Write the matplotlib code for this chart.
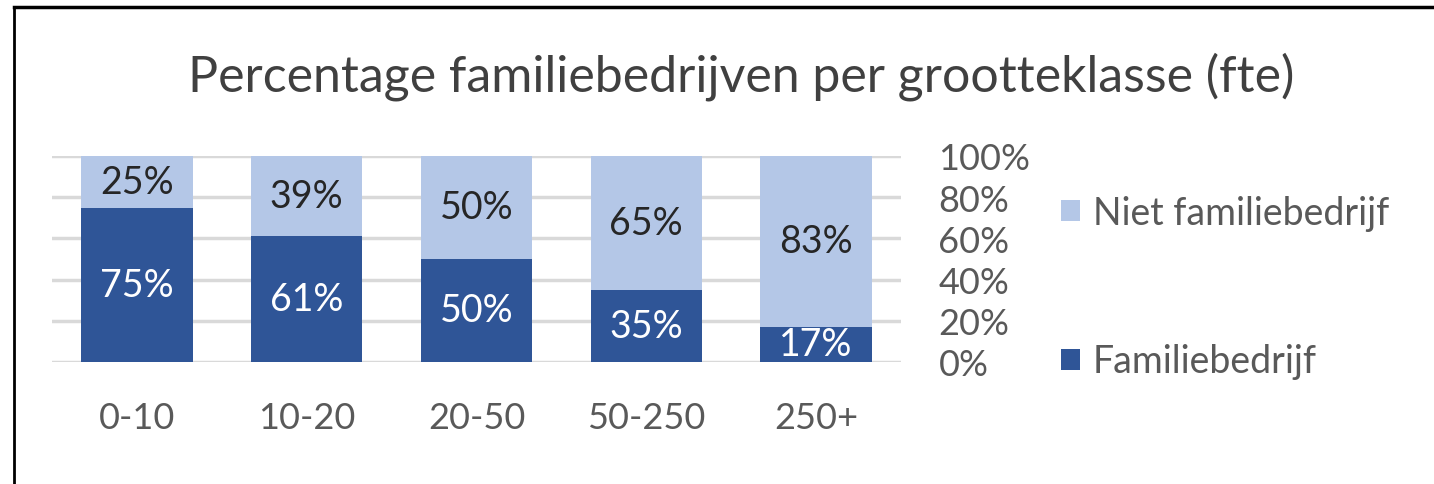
"""
Percentage familiebedrijven per grootteklasse (fte) - stacked 100% bars
"""

import matplotlib.pyplot as plt
import numpy as np
from matplotlib.lines import Line2D

CATEGORIES = ['0-10', '10-20', '20-50', '50-250', '250+']
FAMILIE = [75, 61, 50, 35, 17]
NIET_FAMILIE = [25, 39, 50, 65, 83]
Y_TICKS = [0, 20, 40, 60, 80, 100]

DARK = '#2F5597'
LIGHT = '#B4C7E7'
GRID = '#D9D9D9'
TEXT = '#595959'

plt.rcParams['font.family'] = ['Lato', 'DejaVu Sans']

fig = plt.figure(figsize=(14.34, 4.85), dpi=100)
ax = fig.add_axes([52 / 1434, 1 - 363 / 485, (901 - 52) / 1434, (363 - 157) / 485])

x = np.arange(len(CATEGORIES))
width = 0.655
ax.bar(x, FAMILIE, width, color=DARK, label='Familiebedrijf', zorder=2)
ax.bar(x, NIET_FAMILIE, width, bottom=FAMILIE, color=LIGHT,
       label='Niet familiebedrijf', zorder=2)

for xi, f, n in zip(x, FAMILIE, NIET_FAMILIE):
    ax.text(xi, f / 2, f'{f}%', ha='center', va='center', color='white',
            fontsize=27, zorder=3)
    ax.text(xi, f + n / 2, f'{n}%', ha='center', va='center', color='#262626',
            fontsize=27, zorder=3)

ax.set_xlim(-0.5, len(CATEGORIES) - 0.5)
ax.set_ylim(0, 100)
ax.set_yticks(Y_TICKS)
ax.set_yticklabels([f'{t}%' for t in Y_TICKS])
ax.yaxis.tick_right()
ax.set_xticks(x)
ax.set_xticklabels(CATEGORIES)
ax.tick_params(axis='both', length=0, labelsize=26, colors=TEXT)
ax.tick_params(axis='y', pad=27)
ax.tick_params(axis='x', pad=28)
ax.yaxis.grid(True, color=GRID, linewidth=2.5, zorder=0)
ax.set_axisbelow(True)
for sp in ax.spines.values():
    sp.set_visible(False)

fig.text(741 / 1434, 1 - 77 / 485, 'Percentage familiebedrijven per grootteklasse (fte)',
         ha='center', va='center', fontsize=36, color='#404040')

handles, labels = ax.get_legend_handles_labels()
leg = fig.legend(handles[::-1], labels[::-1], loc='upper left',
                 bbox_to_anchor=(1046 / 1434, 1 - 181 / 485), frameon=False,
                 fontsize=27, labelcolor=TEXT, handlelength=0.5, handleheight=0.5,
                 handletextpad=0.35, labelspacing=3.0, borderaxespad=0)

# frame lines at top and left (the screenshot is cropped on the other sides)
fig.add_artist(Line2D([14 / 1434, 1], [1 - 8 / 485, 1 - 8 / 485], color='black',
                      linewidth=2.5, transform=fig.transFigure))
fig.add_artist(Line2D([14 / 1434, 14 / 1434], [0, 1 - 8 / 485], color='black',
                      linewidth=2, transform=fig.transFigure))

fig.savefig('out.png', dpi=100)
